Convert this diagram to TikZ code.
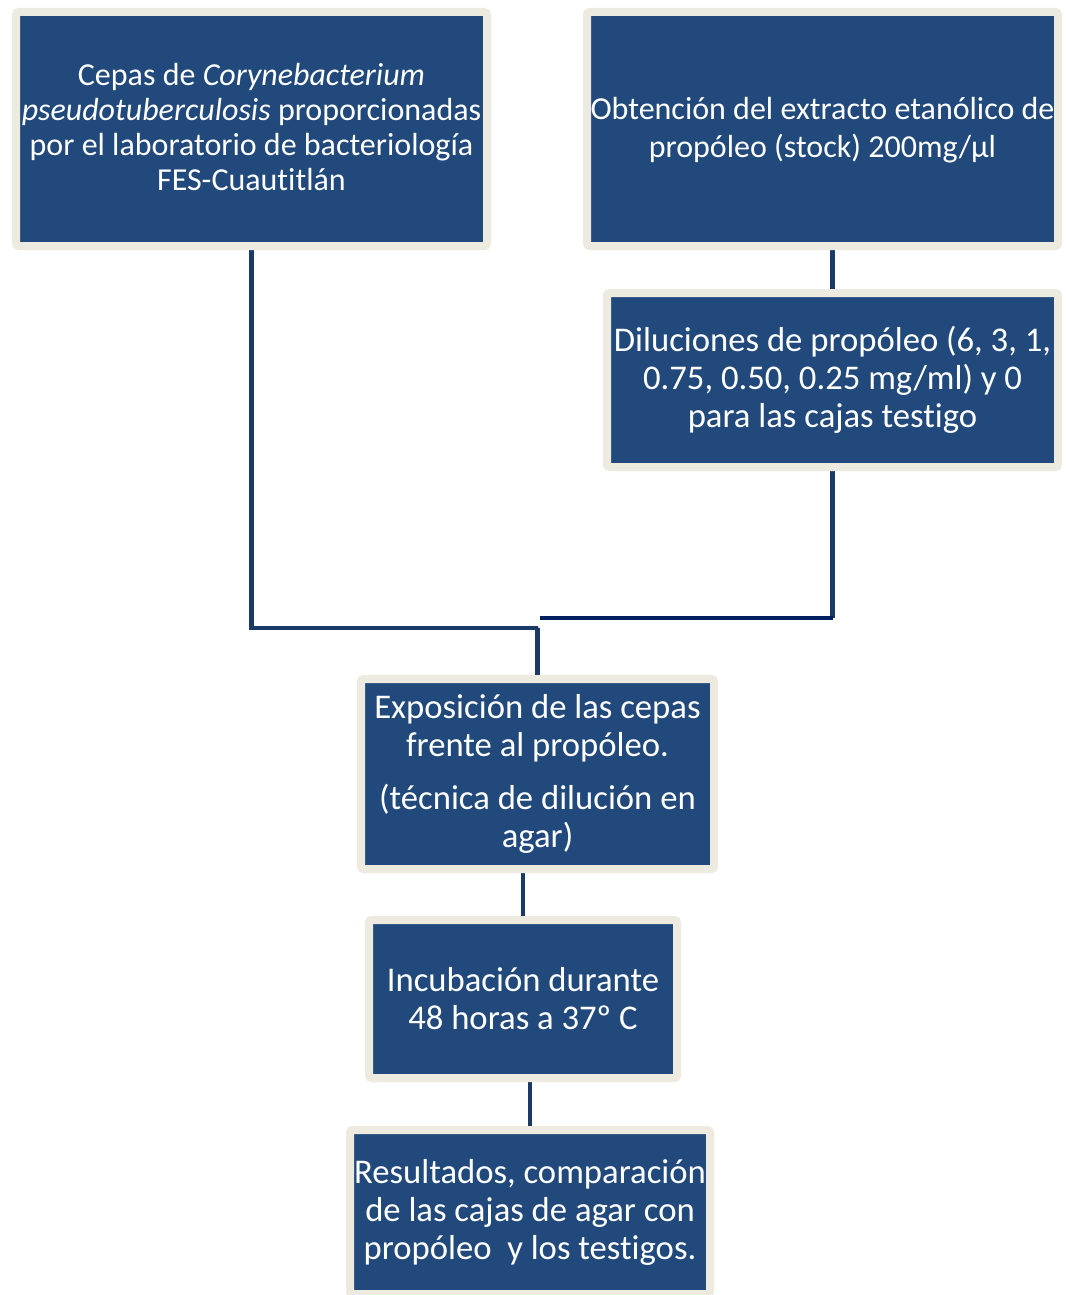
\documentclass[tikz,border=0pt]{standalone}
\usepackage{fontspec}
\setmainfont{Carlito}[RawFeature={-liga;-clig;-dlig}]
\usetikzlibrary{shadows,backgrounds,calc}
\definecolor{boxblue}{RGB}{33,73,124}
\definecolor{boxcream}{RGB}{237,234,223}
\definecolor{linkblue}{RGB}{27,58,102}
\definecolor{linknavy}{RGB}{0,32,96}
\tikzset{
  flowbox/.style={draw=boxcream, fill=boxblue, line width=6pt, rounded corners=2pt,
    inner sep=0pt, align=center, text=white,
    drop shadow={shadow xshift=1.5pt, shadow yshift=-2.5pt, fill=black, opacity=0.3}},
  link/.style={draw=linkblue, line width=3.5pt},
  bigtext/.style={font=\fontsize{26}{28.5}\selectfont},
  midtext/.style={font=\fontsize{24}{28.5}\selectfont},
  smalltext/.style={font=\fontsize{24}{26.25}\selectfont}
}
\begin{document}
\begin{tikzpicture}[x=0.75pt,y=-0.75pt]
\useasboundingbox (0,0) rectangle (1065,1295);
\clip (0,0) rectangle (1065,1295);

\node[flowbox, smalltext, minimum width=353.25pt, minimum height=175.5pt] (b1) at (251.5,129)
  {};
\node[smalltext, text=white, align=center, inner sep=0pt] (t1) at (251.5,127)
  {Cepas de \textit{Corynebacterium}\\ \textit{pseudotuberculosis} proporcionadas\\ por el laboratorio de bacteriología\\ FES-Cuautitlán};

\node[flowbox, midtext, minimum width=353.25pt, minimum height=175.5pt] (b2) at (822.5,129)
  {};
\node[midtext, text=white, align=center, inner sep=0pt] (t2) at (822.5,130)
  {Obtención del extracto etanólico de\\ propóleo (stock) 200mg/µl};

\node[flowbox, bigtext, minimum width=338.25pt, minimum height=130.5pt] (b3) at (832.5,380)
  {Diluciones de propóleo (6, 3, 1,\\ 0.75, 0.50, 0.25 mg/ml) y 0\\ para las cajas testigo};

\node[flowbox, bigtext, minimum width=264.75pt, minimum height=142.5pt] (b4) at (537.5,774)
  {Exposición de las cepas\\ frente al propóleo.\\[11pt] (técnica de dilución en\\ agar)};

\node[flowbox, bigtext, minimum width=231pt, minimum height=118.5pt] (b5) at (523,999)
  {Incubación durante\\ 48 horas a 37º C};

\node[flowbox, bigtext, minimum width=270pt, minimum height=123pt] (b6) at (530,1212)
  {Resultados, comparación\\ de las cajas de agar con\\ propóleo\ \ y los testigos.};

\coordinate (j1) at (538,628);
\coordinate (j2) at (832.5,618);
\coordinate (e2) at (540,618);

\begin{pgfonlayer}{background}
  \path[link] (b1.south) |- (j1) -- (j1 -| b4.north) -- (b4.north);
  \path[link] (b3.north) -- (b3.north |- b2.south);
  \path[link] (b3.south) -- (j2);
  \path[draw=linknavy, line width=3.5pt] (j2) -- (e2);
  \path[link] (b5.north) -- (b5.north |- b4.south);
  \path[link] (b6.north) -- (b6.north |- b5.south);
\end{pgfonlayer}
\end{tikzpicture}
\end{document}
